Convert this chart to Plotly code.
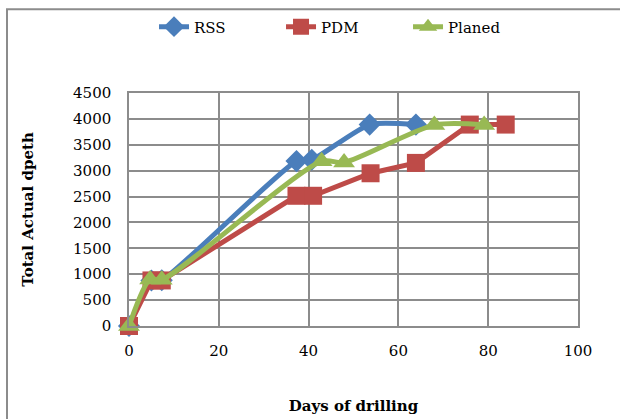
import plotly.graph_objects as go

rss_x = [0, 5, 7.3, 37.3, 40.7, 53.6, 63.9]
rss_y = [0, 880, 885, 3185, 3210, 3890, 3890]

pdm_x = [0, 5, 7.3, 37.3, 41, 53.8, 63.9, 75.9, 83.9]
pdm_y = [0, 880, 880, 2515, 2515, 2950, 3150, 3890, 3890]

plan_x = [0, 4.7, 7.3, 42.9, 47.9, 68, 79.1]
plan_y = [0, 900, 895, 3180, 3160, 3880, 3880]

x_ticks = [0, 20, 40, 60, 80, 100]
y_ticks = [0, 500, 1000, 1500, 2000, 2500, 3000, 3500, 4000, 4500]

BLUE = "#4A7EBB"
RED = "#BE4B48"
GREEN = "#98B954"
GRID = "#8C8C8C"
FONT = "DejaVu Serif"

fig = go.Figure()
fig.add_trace(go.Scatter(x=rss_x, y=rss_y, name="RSS", mode="lines+markers", cliponaxis=False,
                         line=dict(color=BLUE, width=5, shape="spline", smoothing=0.6),
                         marker=dict(symbol="diamond", size=17, color=BLUE)))
fig.add_trace(go.Scatter(x=pdm_x, y=pdm_y, name="PDM", mode="lines+markers", cliponaxis=False,
                         line=dict(color=RED, width=5),
                         marker=dict(symbol="square", size=18, color=RED)))
fig.add_trace(go.Scatter(x=plan_x, y=plan_y, name="Planed", mode="lines+markers", cliponaxis=False,
                         line=dict(color=GREEN, width=5, shape="spline", smoothing=0.8),
                         marker=dict(symbol="triangle-up", size=19, color=GREEN)))

axis_common = dict(showgrid=True, gridcolor=GRID, gridwidth=1.5,
                   showline=True, linecolor=GRID, linewidth=1.5, mirror=True, automargin=False,
                   zeroline=False, ticks="", tickfont=dict(family=FONT, size=15, color="#000"))

fig.update_xaxes(range=[0, 100], tickvals=x_ticks, ticklabelstandoff=10, **axis_common,
                 title=dict(text="<b>Days of drilling</b>", font=dict(family=FONT, size=15, color="#000"),
                            standoff=42))
fig.update_yaxes(range=[0, 4500], tickvals=y_ticks, ticklabelstandoff=13, **axis_common,
                 title=dict(text="<b>Total Actual dpeth</b>", font=dict(family=FONT, size=15, color="#000"),
                            standoff=36))

fig.update_layout(
    width=620, height=419,
    margin=dict(l=129, r=42, t=92, b=93),
    paper_bgcolor="white", plot_bgcolor="white",
    showlegend=True,
    legend=dict(orientation="h", x=0.48, xanchor="center", y=1.278, yanchor="middle",
                font=dict(family=FONT, size=15, color="#000"), entrywidth=82,
                bgcolor="rgba(0,0,0,0)"),
    shapes=[dict(type="rect", xref="paper", yref="paper",
                 x0=-0.2717, x1=1.25, y0=-0.5, y1=1.359,
                 line=dict(color="#8C8C8C", width=2), layer="below")],
)

fig.write_html("out.html")
